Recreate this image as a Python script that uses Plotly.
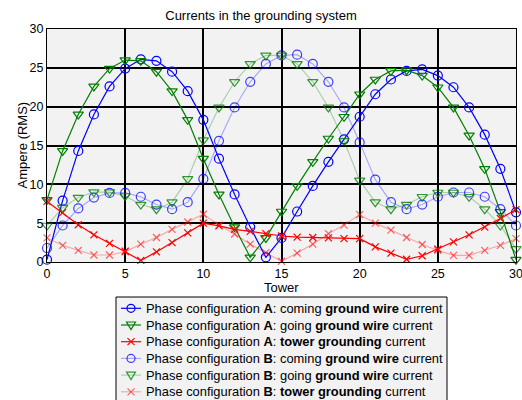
import plotly.graph_objects as go

towers = list(range(31))

a_coming = [0.3, 7.9, 14.3, 19.0, 22.6, 24.9, 26.1, 25.9, 24.5, 22.0, 18.3, 13.3, 8.7, 4.5, 0.6,
            3.1, 6.5, 9.8, 12.9, 15.8, 18.7, 21.6, 23.5, 24.6, 24.8, 24.0, 22.5, 19.9, 16.4, 12.0, 6.4]
a_going = [8.0, 14.3, 19.0, 22.6, 24.9, 26.0, 25.9, 24.5, 22.0, 18.3, 13.3, 8.7, 4.5, 0.6, 3.1,
           6.5, 9.8, 12.9, 15.9, 18.7, 21.6, 23.5, 24.6, 24.7, 24.0, 22.5, 19.9, 16.3, 12.0, 6.45, 0.3]
a_tower = [7.8, 6.35, 4.8, 3.5, 2.4, 1.4, 0.2, 1.3, 2.5, 3.75, 5.0, 4.65, 4.2, 3.95, 3.65,
           3.35, 3.2, 3.15, 3.1, 3.0, 3.0, 1.95, 1.15, 0.35, 0.8, 1.65, 2.6, 3.5, 4.5, 5.6, 6.75]
b_coming = [1.8, 4.7, 6.9, 8.3, 8.9, 8.9, 8.4, 7.4, 6.8, 7.7, 10.7, 15.6, 19.9, 23.2, 25.5,
            26.6, 26.7, 25.5, 23.2, 19.9, 15.4, 10.6, 7.7, 6.8, 7.4, 8.4, 8.95, 8.95, 8.4, 6.8, 4.7]
b_going = [4.7, 7.0, 8.3, 9.0, 9.0, 8.5, 7.4, 6.8, 7.7, 10.7, 15.7, 19.9, 23.2, 25.5, 26.6,
           26.6, 25.5, 23.2, 19.9, 15.6, 10.5, 7.7, 6.8, 7.4, 8.4, 8.95, 8.95, 8.4, 6.8, 4.7, 1.7]
b_tower = [3.1, 2.15, 1.5, 0.9, 0.9, 1.3, 2.3, 3.15, 4.2, 5.15, 6.15, 4.75, 3.6, 2.3, 1.2,
           0.1, 1.15, 2.3, 3.65, 4.75, 6.1, 5.0, 4.1, 3.15, 2.25, 1.5, 0.85, 0.85, 1.5, 2.15, 3.0]

names = [
    "Phase configuration <b>A</b>: coming <b>ground wire</b> current",
    "Phase configuration <b>A</b>: going <b>ground wire</b> current",
    "Phase configuration <b>A</b>: <b>tower grounding</b> current",
    "Phase configuration <b>B</b>: coming <b>ground wire</b> current",
    "Phase configuration <b>B</b>: going <b>ground wire</b> current",
    "Phase configuration <b>B</b>: <b>tower grounding</b> current",
]

title_text = "Currents in the grounding system"
x_title = "Tower"
y_title = "Ampere (RMS)"

series = [a_coming, a_going, a_tower, b_coming, b_going, b_tower]
# (line colour, marker colour, symbol kind)
styles = [
    ("rgb(0,0,255)", "rgb(0,0,255)", "circle"),
    ("rgb(0,128,0)", "rgb(0,128,0)", "tri"),
    ("rgb(255,0,0)", "rgb(255,0,0)", "x"),
    ("rgba(0,0,255,0.3)", "rgba(0,0,255,0.75)", "circle"),
    ("rgba(0,128,0,0.3)", "rgba(0,128,0,0.8)", "tri"),
    ("rgba(255,0,0,0.3)", "rgba(255,0,0,0.6)", "x"),
]
plotly_symbol = {"circle": ("circle-open", 9), "tri": ("triangle-down-open", 9), "x": ("x-thin-open", 7)}

W, H = 522, 400
ML, MR, MT, MB = 47, 6, 29, 138
PW, PH = W - ML - MR, H - MT - MB


def px_x(px):
    return (px - ML) / PW


def px_y(py):
    return (H - MB - py) / PH


fig = go.Figure()
for name, ys, (lc, mc, kind) in zip(names, series, styles):
    sym, sz = plotly_symbol[kind]
    fig.add_trace(go.Scatter(
        x=towers, y=ys, name=name, mode="lines+markers",
        line=dict(color=lc, width=1.2),
        marker=dict(symbol=sym, size=sz, color=mc, line=dict(color=mc, width=1.2)),
        cliponaxis=False, showlegend=False,
    ))

# legend box drawn as layout decoration (rows are tighter than Plotly's native legend allows)
shapes = [dict(type="rect", xref="paper", yref="paper",
               x0=px_x(116), x1=px_x(447), y0=px_y(406), y1=px_y(297),
               fillcolor="#f2f2f2", line=dict(color="black", width=1), layer="below")]
annotations = []
row0, row_step = 308.3, 16.7
for i, (name, (lc, mc, kind)) in enumerate(zip(names, styles)):
    ry = row0 + i * row_step
    yy = px_y(ry)
    shapes.append(dict(type="line", xref="paper", yref="paper",
                       x0=px_x(121), x1=px_x(141), y0=yy, y1=yy,
                       line=dict(color=lc, width=1.2)))
    common = dict(xref="paper", yref="paper", xsizemode="pixel", ysizemode="pixel",
                  xanchor=px_x(131), yanchor=yy, line=dict(color=mc, width=1.2))
    if kind == "circle":
        shapes.append(dict(type="circle", x0=-4, x1=4, y0=-4, y1=4, **common))
    elif kind == "tri":
        shapes.append(dict(type="path", path="M-4.5,3 L4.5,3 L0,-4.5 Z", **common))
    else:
        shapes.append(dict(type="path", path="M-3.5,-3.5 L3.5,3.5 M-3.5,3.5 L3.5,-3.5", **common))
    annotations.append(dict(text=name, xref="paper", yref="paper", x=px_x(144), y=yy,
                            xanchor="left", yanchor="middle", showarrow=False,
                            font=dict(size=12.9, color="black")))

# axis titles placed as annotations to match the reference positions
annotations.append(dict(text=x_title, xref="paper", yref="paper", x=0.5, y=px_y(287.5),
                        xanchor="center", yanchor="middle", showarrow=False,
                        font=dict(size=13, color="black")))
annotations.append(dict(text=y_title, xref="paper", yref="paper", x=px_x(22), y=0.5,
                        xanchor="center", yanchor="middle", showarrow=False, textangle=-90,
                        font=dict(size=13, color="black")))

axis_common = dict(
    showgrid=True, gridcolor="black", gridwidth=2,
    showline=True, linecolor="black", linewidth=1, mirror=True,
    zeroline=False, ticks="", tickfont=dict(size=12.5, color="black"),
    dtick=5, ticklabeloverflow="allow",
)

fig.update_layout(
    width=W, height=H,
    margin=dict(l=ML, r=MR, t=MT, b=MB, autoexpand=False),
    paper_bgcolor="white", plot_bgcolor="#f2f2f2",
    font=dict(family="Liberation Sans, Arial, sans-serif", size=13, color="black"),
    title=dict(text=title_text, x=0.5, xanchor="center",
               y=0.962, yanchor="middle", font=dict(size=13)),
    xaxis=dict(range=[0, 30], tick0=0, **axis_common),
    yaxis=dict(range=[0, 30], tick0=0, **axis_common),
    showlegend=False,
    shapes=shapes,
    annotations=annotations,
)

fig.write_html("out.html")
